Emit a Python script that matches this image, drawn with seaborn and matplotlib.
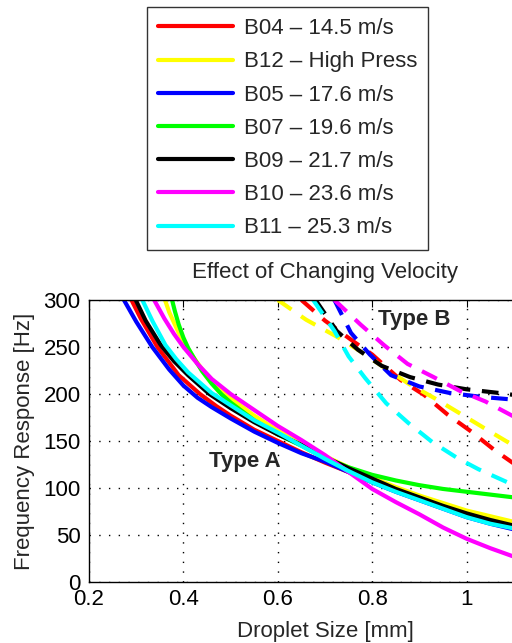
import pandas as pd
import matplotlib
matplotlib.use("Agg")
import matplotlib.pyplot as plt
import seaborn as sns

# --- DATA ---
series_names = ['B04', 'B12', 'B05', 'B07', 'B09', 'B10', 'B11']
legend_labels = ['B04 \u2013 14.5 m/s', 'B12 \u2013 High Press', 'B05 \u2013 17.6 m/s',
                 'B07 \u2013 19.6 m/s', 'B09 \u2013 21.7 m/s', 'B10 \u2013 23.6 m/s',
                 'B11 \u2013 25.3 m/s']
series_colors = ['#ff0000', '#ffff00', '#0000ff', '#00ff00', '#000000', '#ff00ff', '#00ffff']

# Type A (solid) curves: droplet size [mm] -> frequency response [Hz]
typeA_x = {
    'B04': [0.29, 0.31, 0.345, 0.39, 0.435, 0.47, 0.5, 0.55, 0.6, 0.65, 0.7, 0.75, 0.8, 0.85, 0.9, 0.95, 1.0, 1.05, 1.1],
    'B12': [0.361, 0.37, 0.38, 0.39, 0.405, 0.42, 0.44, 0.46, 0.49, 0.52, 0.55, 0.6, 0.65, 0.7, 0.75, 0.8, 0.85, 0.9, 0.95, 1.0, 1.05, 1.1],
    'B05': [0.274, 0.30, 0.334, 0.37, 0.40, 0.43, 0.46, 0.5, 0.55, 0.6, 0.65, 0.7, 0.75, 0.8, 0.85, 0.9, 0.95, 1.0, 1.05, 1.1],
    'B07': [0.376, 0.382, 0.39, 0.40, 0.41, 0.425, 0.44, 0.46, 0.48, 0.5, 0.55, 0.6, 0.65, 0.7, 0.75, 0.8, 0.85, 0.9, 0.95, 1.0, 1.05, 1.1],
    'B09': [0.299, 0.32, 0.352, 0.38, 0.41, 0.455, 0.5, 0.55, 0.6, 0.65, 0.7, 0.75, 0.8, 0.85, 0.9, 0.95, 1.0, 1.05, 1.1],
    'B10': [0.338, 0.36, 0.38, 0.40, 0.43, 0.46, 0.5, 0.55, 0.6, 0.65, 0.7, 0.75, 0.8, 0.85, 0.9, 0.95, 1.0, 1.05, 1.1],
    'B11': [0.313, 0.335, 0.362, 0.385, 0.41, 0.46, 0.5, 0.55, 0.6, 0.65, 0.7, 0.75, 0.8, 0.85, 0.9, 0.95, 1.0, 1.05, 1.1],
}
typeA_y = {
    'B04': [300, 280, 250, 220, 200, 187, 177, 162, 150, 138, 127, 117, 107, 97, 88, 79, 71, 64, 58],
    'B12': [300, 287, 276, 265, 252, 240, 226, 214, 200, 188, 177, 161, 147, 134, 122, 111, 101, 92, 84, 76, 70, 64],
    'B05': [300, 277, 250, 226, 209, 196, 186, 174, 160, 148, 137, 128, 117, 106, 96, 87, 78, 69, 62, 56],
    'B07': [300, 288, 274, 260, 249, 236, 224, 211, 200, 191, 172, 157, 145, 132, 122, 114, 108, 103, 99, 96, 93, 90],
    'B09': [300, 278, 252, 235, 220, 200, 185, 170, 157, 146, 133, 121, 110, 99, 90, 81, 73, 66, 60],
    'B10': [300, 280, 264, 250, 232, 216, 200, 183, 166, 151, 135, 117, 99, 85, 72, 58, 46, 36, 27],
    'B11': [300, 277, 252, 237, 223, 201, 188, 172, 159, 145, 131, 118, 106, 96, 87, 78, 69, 62, 57],
}

# Type B (dashed) curves
typeB_x = {
    'B04': [0.65, 0.70, 0.76, 0.80, 0.86, 0.91, 0.96, 1.01, 1.06, 1.10],
    'B12': [0.60, 0.66, 0.725, 0.77, 0.82, 0.877, 0.934, 0.987, 1.043, 1.10],
    'B05': [0.72, 0.755, 0.795, 0.84, 0.90, 0.965, 1.03, 1.10],
    'B09': [0.68, 0.725, 0.77, 0.82, 0.88, 0.94, 1.0, 1.07, 1.10],
    'B10': [0.72, 0.775, 0.825, 0.875, 0.93, 0.987, 1.04, 1.10],
    'B11': [0.675, 0.72, 0.75, 0.785, 0.83, 0.877, 0.927, 0.98, 1.025, 1.10],
}
typeB_y = {
    'B04': [300, 278, 256, 242, 215, 199, 178, 160, 140, 126],
    'B12': [300, 279, 261, 247, 230, 211, 195, 179, 162, 145],
    'B05': [300, 265, 242, 220, 208, 201, 197, 194],
    'B09': [300, 267, 247, 230, 218, 210, 205, 201, 199],
    'B10': [300, 274, 252, 232, 218, 203, 192, 176],
    'B11': [300, 267, 240, 217, 190, 169, 149, 132, 120, 103],
}

x_ticks = [0.2, 0.4, 0.6, 0.8, 1.0]
x_tick_labels = ['0.2', '0.4', '0.6', '0.8', '1']
y_ticks = [0, 50, 100, 150, 200, 250, 300]

sns.set_style("white")
plt.rcParams['font.family'] = ['Liberation Sans', 'DejaVu Sans']

W, H = 512, 643
fig = plt.figure(figsize=(W / 100, H / 100), dpi=100)
# axes run off the right edge like the cropped original
ax = fig.add_axes([89 / W, (H - 582) / H, 472 / W, 282 / H])

LW = 3.0
solid_handles = []
for name, color, label in zip(series_names, series_colors, legend_labels):
    df = pd.DataFrame({'size': typeA_x[name], 'freq': typeA_y[name]})
    sns.lineplot(data=df, x='size', y='freq', color=color, linewidth=LW,
                 estimator=None, sort=False, ax=ax, label=label)
    solid_handles.append(ax.lines[-1])

for name, color in zip(series_names, series_colors):
    if name not in typeB_x:
        continue
    df = pd.DataFrame({'size': typeB_x[name], 'freq': typeB_y[name]})
    sns.lineplot(data=df, x='size', y='freq', color=color, linewidth=LW,
                 linestyle=(0, (4, 2.8)), estimator=None, sort=False, ax=ax)

if ax.get_legend() is not None:
    ax.get_legend().remove()

ax.set_xlim(0.2, 1.2)
ax.set_ylim(0, 300)
ax.set_xticks(x_ticks)
ax.set_xticklabels(x_tick_labels)
ax.set_yticks(y_ticks)
ax.tick_params(axis='both', direction='in', length=5, width=0.8, labelsize=16,
               top=True, right=True, colors='black')
ax.tick_params(axis='x', pad=5)
ax.tick_params(axis='y', pad=6)
ax.grid(True, color='black', linestyle=(0, (1, 6)), linewidth=1.0)
for sp in ax.spines.values():
    sp.set_color('black')
    sp.set_linewidth(1.0)

ax.set_title('Effect of Changing Velocity', fontsize=16, pad=16)
ax.set_xlabel('Droplet Size [mm]', fontsize=16, labelpad=8)
ax.set_ylabel('Frequency Response [Hz]', fontsize=16, labelpad=6)

ax.text(0.53, 128, 'Type A', fontsize=16, fontweight='bold', ha='center', va='center')
ax.text(0.89, 279, 'Type B', fontsize=16, fontweight='bold', ha='center', va='center')

leg = fig.legend(handles=solid_handles, labels=legend_labels, loc='upper left',
                 bbox_to_anchor=(147 / W, 1 - 7 / H), borderaxespad=0, fontsize=16,
                 handlelength=3.35, handletextpad=0.5, labelspacing=0.55,
                 borderpad=0.5, fancybox=False, frameon=True)
leg.get_frame().set_edgecolor('black')
leg.get_frame().set_linewidth(1.0)

fig.savefig('out.png', dpi=100)
